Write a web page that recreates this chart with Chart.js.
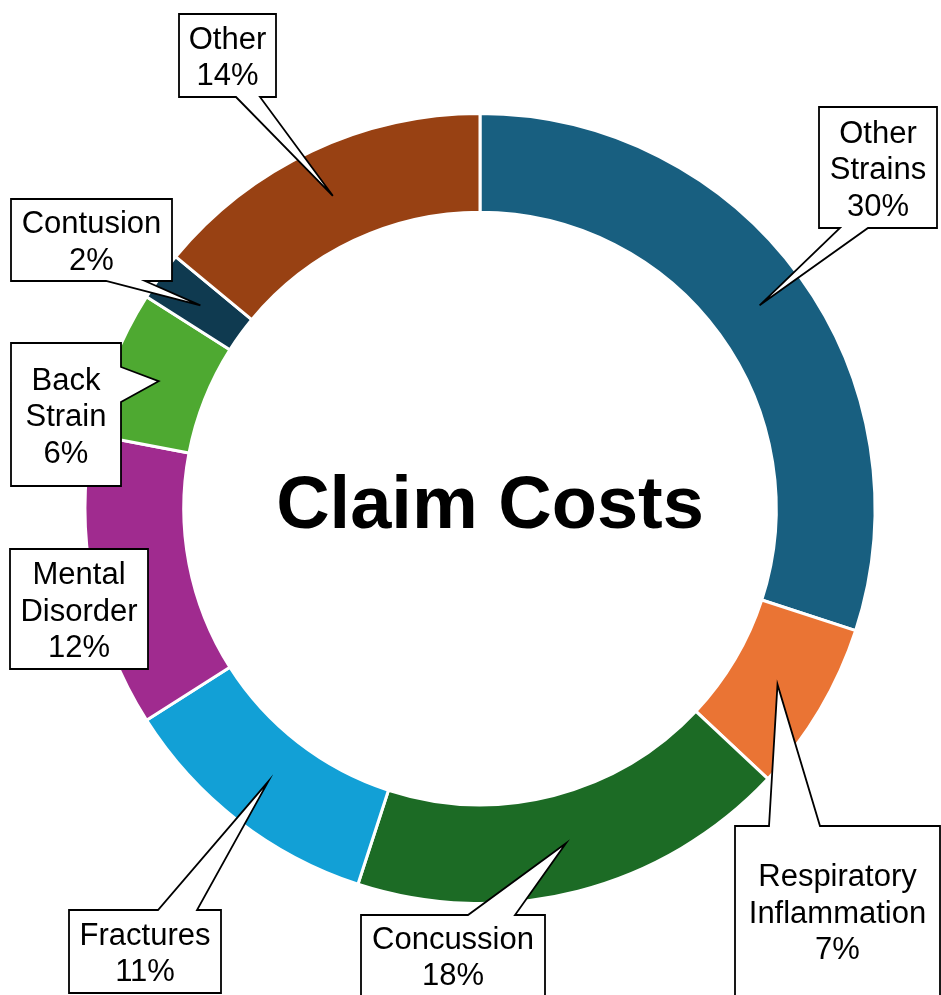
<!DOCTYPE html>
<html>
<head>
<meta charset="utf-8">
<title>Claim Costs</title>
<script src="https://cdn.jsdelivr.net/npm/chart.js@4.4.1/dist/chart.umd.min.js"></script>
<style>
  html, body { margin: 0; padding: 0; background: #fff; }
  canvas { display: block; }
</style>
</head>
<body>
<canvas id="chart" width="941" height="995"></canvas>
<script>
var categories = ['Other Strains', 'Respiratory Inflammation', 'Concussion', 'Fractures',
  'Mental Disorder', 'Back Strain', 'Contusion', 'Other'];
var costShares = [30, 7, 18, 11, 12, 6, 2, 14];
var sliceColors = ['#185F80', '#EA7434', '#1C6B25', '#12A0D6',
  '#A02B8F', '#4EA931', '#0F3A50', '#984113'];
var centerTitle = 'Claim Costs';

// callout boxes, one per slice: [left, top, width, height],
// the edge the pointer leaves from and the span of its base on that edge
var calloutBoxes = [
  { box: [819, 107, 118, 121], edge: 'bottom', base: [840, 868] },
  { box: [735, 826, 205, 170], edge: 'top', base: [769, 820] },
  { box: [361, 915, 184, 81], edge: 'top', base: [468, 515] },
  { box: [69, 910, 152, 83], edge: 'top', base: [158, 197] },
  { box: [10, 549, 138, 120], edge: null },
  { box: [11, 343, 110, 143], edge: 'right', base: [367, 402] },
  { box: [11, 199, 161, 82], edge: 'bottom', base: [106, 145] },
  { box: [179, 14, 97, 83], edge: 'bottom', base: [236, 260] }
];

var FONT = '"Liberation Sans", Arial, Helvetica, sans-serif';
var LINE_H = 36.5;

var calloutPlugin = {
  id: 'callouts',
  afterDatasetsDraw: function(chart) {
    var ctx = chart.ctx;
    var arcs = chart.getDatasetMeta(0).data;
    ctx.save();

    // title in the hole
    var cx = arcs[0].x, cy = arcs[0].y;
    ctx.fillStyle = '#000';
    ctx.font = 'bold 74px ' + FONT;
    ctx.textAlign = 'center';
    ctx.textBaseline = 'alphabetic';
    ctx.fillText(centerTitle, cx + 10, cy + 19);

    ctx.lineWidth = 1.8;
    ctx.lineJoin = 'miter';
    arcs.forEach(function(arc, i) {
      var c = calloutBoxes[i];
      var tip = arc.tooltipPosition();
      var l = c.box[0], t = c.box[1], r = l + c.box[2], b = t + c.box[3];

      ctx.beginPath();
      ctx.moveTo(l, t);
      if (c.edge === 'top') {
        ctx.lineTo(c.base[0], t); ctx.lineTo(tip.x, tip.y); ctx.lineTo(c.base[1], t);
      }
      ctx.lineTo(r, t);
      if (c.edge === 'right') {
        ctx.lineTo(r, c.base[0]); ctx.lineTo(tip.x, tip.y); ctx.lineTo(r, c.base[1]);
      }
      ctx.lineTo(r, b);
      if (c.edge === 'bottom') {
        ctx.lineTo(c.base[1], b); ctx.lineTo(tip.x, tip.y); ctx.lineTo(c.base[0], b);
      }
      ctx.lineTo(l, b);
      ctx.closePath();
      ctx.fillStyle = '#fff';
      ctx.fill();
      ctx.strokeStyle = '#000';
      ctx.stroke();

      var lines = categories[i].split(' ');
      lines.push(costShares[i] + '%');
      var midX = (l + r) / 2, midY = (t + b) / 2;
      var y0 = midY - (lines.length - 1) * LINE_H / 2 + 11.5;
      ctx.fillStyle = '#000';
      ctx.font = '31px ' + FONT;
      lines.forEach(function(txt, k) {
        ctx.fillText(txt, midX, y0 + k * LINE_H);
      });
    });
    ctx.restore();
  }
};

new Chart(document.getElementById('chart'), {
  type: 'doughnut',
  data: {
    labels: categories,
    datasets: [{
      data: costShares,
      backgroundColor: sliceColors,
      borderColor: '#fff',
      borderWidth: 3
    }]
  },
  options: {
    responsive: false,
    devicePixelRatio: 1,
    animation: false,
    cutout: '75%',
    layout: { padding: { left: 83.5, right: 64.5, top: 112, bottom: 90 } },
    plugins: {
      legend: { display: false },
      tooltip: { enabled: false }
    }
  },
  plugins: [calloutPlugin]
});
</script>
</body>
</html>
